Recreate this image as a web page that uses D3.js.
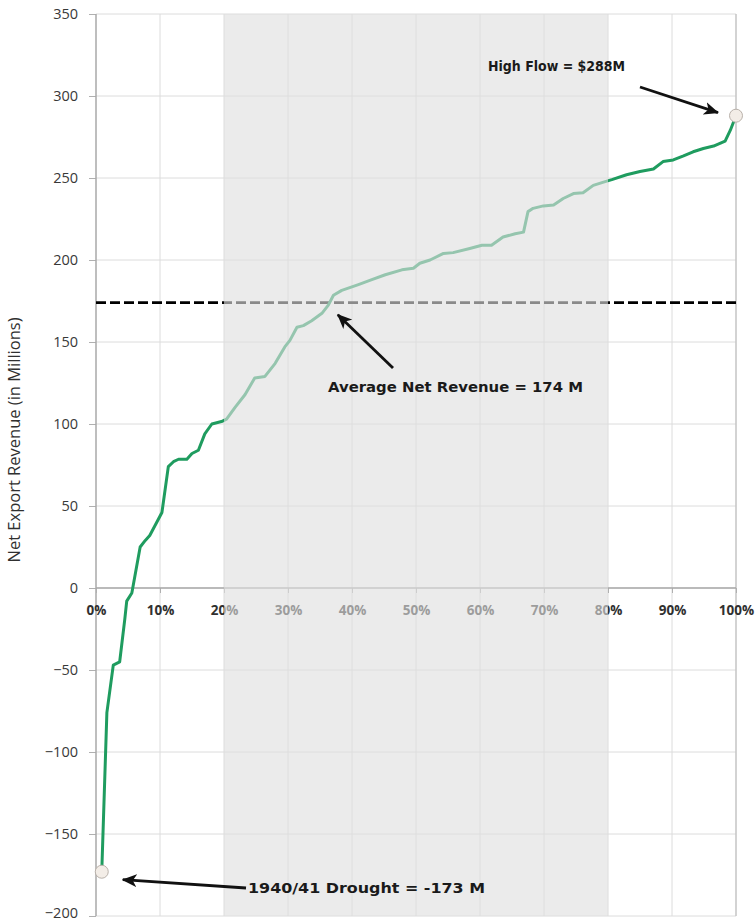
<!DOCTYPE html>
<html>
<head>
<meta charset="utf-8">
<script src="https://cdn.jsdelivr.net/npm/d3@7"></script>
<style>
  html, body { margin: 0; padding: 0; background: #ffffff; }
  svg { display: block; }
</style>
</head>
<body>
<svg id="chart" width="755" height="923"></svg>
<script>
// ---- data ----
const exceedancePct = [0.9, 1.7, 2.7, 3.7, 4.5, 4.8, 5.6, 6.9, 7.7, 8.4, 10.3, 11.3, 12.1, 12.9, 14.2, 15.0, 16.0, 17.0, 18.1, 19.6, 20.4, 21.7, 23.3, 24.8, 26.4, 28.0, 29.5, 30.3, 31.4, 32.4, 33.7, 35.3, 36.3, 37.1, 38.4, 41.0, 43.1, 45.2, 47.8, 49.6, 50.6, 52.2, 54.3, 55.8, 58.4, 60.3, 61.8, 63.6, 65.5, 66.8, 67.5, 68.3, 69.9, 71.5, 73.0, 74.6, 76.1, 77.7, 79.3, 80.6, 82.9, 85.0, 87.1, 88.6, 90.2, 91.8, 93.3, 94.9, 96.5, 98.3, 99.1, 100];
const netRevenue = [-173, -76, -47, -45, -19, -8, -3, 25, 29, 32, 46, 74, 77, 78.5, 78.5, 82, 84, 94, 100, 101.5, 103, 110, 118, 128, 129, 137, 147, 151, 159, 160, 163, 167.5, 172.5, 178.5, 181.5, 185, 188, 191, 194, 195, 198, 200, 204, 204.5, 207, 209, 209, 214, 216, 217, 229.5, 231.5, 233, 233.5, 237.5, 240.5, 241, 245.5, 247.5, 249, 252, 254, 255.5, 260, 261, 263.5, 266, 268, 269.5, 272.5, 279, 288];
const averageRevenue = 174;
const yTickValues = [350, 300, 250, 200, 150, 100, 50, 0, -50, -100, -150, -200];
const xTickValues = [0, 10, 20, 30, 40, 50, 60, 70, 80, 90, 100];
const shadedRange = [20, 80];
const yAxisTitle = "Net Export Revenue (in Millions)";
const highLabel = "High Flow = $288M";
const avgLabel = "Average Net Revenue = 174 M";
const lowLabel = "1940/41 Drought = -173 M";

// ---- layout ----
const svg = d3.select("#chart");
const x = d3.scaleLinear().domain([0, 100]).range([96, 736]);
const y = d3.scaleLinear().domain([-200, 350]).range([916, 14]);
const pts = exceedancePct.map((p, i) => ({ p, v: netRevenue[i] }));

// gridlines
svg.append("g").selectAll("line").data(yTickValues).join("line")
  .attr("x1", x(0)).attr("x2", x(100))
  .attr("y1", d => y(d)).attr("y2", d => y(d))
  .attr("stroke", "#dcdcdc").attr("stroke-width", 1);
svg.append("g").selectAll("line").data(xTickValues.filter(d => d > 0)).join("line")
  .attr("x1", d => x(d)).attr("x2", d => x(d))
  .attr("y1", y(350)).attr("y2", y(-200))
  .attr("stroke", d => d === 100 ? "#c4c4c4" : "#dcdcdc").attr("stroke-width", d => d === 100 ? 1.5 : 1);

// y axis
const yAxis = svg.append("g").attr("transform", `translate(${x(0)},0)`)
  .call(d3.axisLeft(y).tickValues(yTickValues).tickSize(7).tickPadding(11));
yAxis.select(".domain").remove();
yAxis.selectAll(".tick line").attr("stroke", "#b0b0b0");
yAxis.selectAll(".tick text").attr("font-family", "'Open Sans', sans-serif").attr("font-size", 14.5)
  .attr("fill", "#383838").attr("dy", d => d === -200 ? "0.1em" : "0.3em");
svg.append("line").attr("x1", x(0)).attr("x2", x(0)).attr("y1", y(350)).attr("y2", y(-200))
  .attr("stroke", "#a8a8a8").attr("stroke-width", 1.5);

// x axis at zero
const xAxis = svg.append("g").attr("transform", `translate(0,${y(0)})`)
  .call(d3.axisBottom(x).tickValues(xTickValues).tickFormat(d => d + "%").tickSize(5).tickPadding(12));
xAxis.select(".domain").remove();
xAxis.selectAll(".tick line").attr("stroke", "#b0b0b0");
xAxis.selectAll(".tick text").attr("font-family", "'Open Sans', sans-serif").attr("font-weight", "bold")
  .attr("font-size", 13.5).attr("fill", "#303030");
svg.append("line").attr("x1", x(0)).attr("x2", x(100)).attr("y1", y(0)).attr("y2", y(0))
  .attr("stroke", "#a8a8a8").attr("stroke-width", 1.5);

// y axis title
svg.append("text")
  .attr("transform", `translate(20,440) rotate(-90)`)
  .attr("text-anchor", "middle")
  .attr("font-family", "'Open Sans', sans-serif").attr("font-size", 16.5).attr("fill", "#303030")
  .text(yAxisTitle);

// average dashed line
svg.append("line").attr("x1", x(0)).attr("x2", x(100))
  .attr("y1", y(averageRevenue)).attr("y2", y(averageRevenue))
  .attr("stroke", "#000").attr("stroke-width", 2.6).attr("stroke-dasharray", "10,4");

// curve
svg.append("path").datum(pts)
  .attr("fill", "none").attr("stroke", "#1f9c5f").attr("stroke-width", 3)
  .attr("stroke-linejoin", "round")
  .attr("d", d3.line().x(d => x(d.p)).y(d => y(d.v)));

// shaded overlay band
svg.append("rect")
  .attr("x", x(shadedRange[0])).attr("width", x(shadedRange[1]) - x(shadedRange[0]))
  .attr("y", y(350)).attr("height", y(-200) - y(350))
  .attr("fill", "rgb(222,222,222)").attr("fill-opacity", 0.62);

// end-point markers
const first = pts[0], last = pts[pts.length - 1];
svg.append("g").selectAll("circle").data([first, last]).join("circle")
  .attr("cx", d => x(d.p)).attr("cy", d => y(d.v)).attr("r", 6.5)
  .attr("fill", "#f3ede7").attr("stroke", "#b9b1aa").attr("stroke-width", 1);

// arrows & annotations
const defs = svg.append("defs");
defs.append("marker").attr("id", "arr").attr("viewBox", "0 0 15 13")
  .attr("refX", 14).attr("refY", 6.5).attr("markerWidth", 15).attr("markerHeight", 13)
  .attr("markerUnits", "userSpaceOnUse").attr("orient", "auto")
  .append("path").attr("d", "M0,0 L15,6.5 L0,13 L4,6.5 Z").attr("fill", "#111");

function arrow(x1, y1, x2, y2) {
  svg.append("line").attr("x1", x1).attr("y1", y1).attr("x2", x2).attr("y2", y2)
    .attr("stroke", "#111").attr("stroke-width", 2.8).attr("marker-end", "url(#arr)");
}
function label(tx, ty, t, w) {
  svg.append("text").attr("x", tx).attr("y", ty)
    .attr("font-family", "'DejaVu Sans', Verdana, sans-serif").attr("font-weight", "bold")
    .attr("font-size", 13.5).attr("fill", "#1a1a1a")
    .attr("textLength", w).attr("lengthAdjust", "spacingAndGlyphs").text(t);
}
arrow(640, 87, x(last.p) - 18, y(last.v) - 3);
label(488, 71, highLabel, 137);
arrow(393, 368, x(37) + 5, y(averageRevenue) + 12);
label(328, 392, avgLabel, 255);
arrow(246, 888, x(first.p) + 21, y(first.v) + 8);
label(248, 893, lowLabel, 237);
</script>
</body>
</html>
